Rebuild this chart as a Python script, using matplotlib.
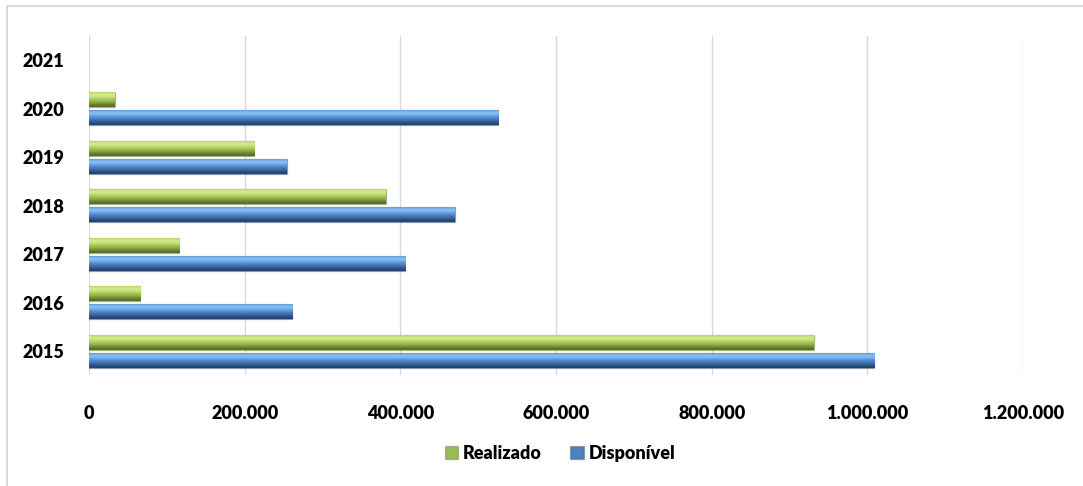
import numpy as np
import matplotlib
matplotlib.use("Agg")
import matplotlib.pyplot as plt
from matplotlib.patches import Rectangle
from matplotlib.colors import LinearSegmentedColormap
from matplotlib.ticker import FuncFormatter

# data
anos = ["2015", "2016", "2017", "2018", "2019", "2020", "2021"]
realizado = [931000, 66000, 116000, 381000, 212000, 33000, 0]
disponivel = [1009000, 261000, 406000, 470000, 254000, 526000, 0]
xticks = [0, 200000, 400000, 600000, 800000, 1000000, 1200000]

plt.rcParams['font.family'] = ['Lato', 'DejaVu Sans']

verde = LinearSegmentedColormap.from_list("verde", ["#566f22", "#86a642", "#b2d264", "#d8f290"])
azul = LinearSegmentedColormap.from_list("azul", ["#23446f", "#3b6aa8", "#5b96da", "#92c8f6"])


def gradient_bars(ax, bars, cmap):
    # bevel look: dark bottom, light stripe near the top
    grad = np.array([[0.0], [0.2], [0.45], [0.6], [0.85], [1.0], [0.65]])
    for b in bars:
        if b.get_width() <= 0:
            continue
        x0, y0 = b.get_x(), b.get_y()
        im = ax.imshow(grad, cmap=cmap, aspect="auto", interpolation="bicubic",
                       extent=[x0, x0 + b.get_width(), y0, y0 + b.get_height()],
                       origin="lower", zorder=3, vmin=0, vmax=1)
        im.set_clip_path(b)
        b.set_edgecolor("#00000030")


fig = plt.figure(figsize=(10.83, 4.86), dpi=100)
# outer chart frame
fig.patches.append(Rectangle((7 / 1083, -0.2), 1.2, 1.2 - 6 / 486, transform=fig.transFigure,
                             fill=False, edgecolor="#d9d9d9", linewidth=1.5))

ax = fig.add_axes([89 / 1083, 1 - 375.5 / 486, 934 / 1083, 339.5 / 486])
y = np.arange(len(anos))
h = 0.315
off = 0.1875
b_real = ax.barh(y + off, realizado, height=h, color="#9bbb59", zorder=2, label="Realizado")
b_disp = ax.barh(y - off, disponivel, height=h, color="#4f81bd", zorder=2, label="Disponível")
gradient_bars(ax, b_real, verde)
gradient_bars(ax, b_disp, azul)

ax.set_xlim(0, 1200000)
ax.set_ylim(-0.5, len(anos) - 0.5)
ax.set_xticks(xticks)
ax.xaxis.set_major_formatter(FuncFormatter(lambda v, p: f"{int(v):,}".replace(",", ".")))
ax.set_yticks(y)
ax.set_yticklabels(anos)
ax.tick_params(length=0, labelsize=13, pad=21)
ax.tick_params(axis="y", pad=18)
for lab in ax.get_xticklabels() + ax.get_yticklabels():
    lab.set_fontweight("heavy")
ax.grid(axis="x", color="#d9d9d9", linewidth=1, zorder=0)
ax.set_axisbelow(True)
for s in ax.spines.values():
    s.set_visible(False)

leg = fig.legend(handles=[b_real, b_disp], labels=["Realizado", "Disponível"], loc="center",
                 bbox_to_anchor=(0.517, 1 - 453 / 486), ncol=2, frameon=False,
                 prop={"weight": "heavy", "size": 13}, handlelength=0.75, handleheight=0.75,
                 handletextpad=0.25, columnspacing=1.6)

fig.savefig("out.png", dpi=100)
